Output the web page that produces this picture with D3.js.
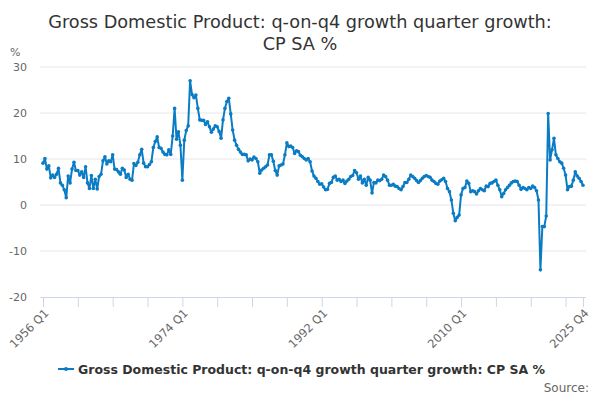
<!DOCTYPE html>
<html>
<head>
<meta charset="utf-8">
<script src="https://cdn.jsdelivr.net/npm/d3@7"></script>
<style>
  body { margin: 0; background: #fff; }
  text { font-family: "DejaVu Sans", Verdana, sans-serif; }
</style>
</head>
<body>
<svg id="chart"></svg>
<script>
const width = 600, height = 400;

// quarterly values, 1956 Q1 .. 2025 Q4 (one row per year)
const values = [
  9.1, 10.1, 7.8, 8.5,    // 1956
  5.9, 6.5, 6.0, 6.7,     // 1957
  8.0, 4.8, 4.3, 3.3,     // 1958
  1.6, 6.3, 4.8, 7.8,     // 1959
  9.3, 7.5, 7.5, 6.5,     // 1960
  7.2, 6.0, 8.3, 4.8,     // 1961
  3.6, 6.4, 3.6, 5.6,     // 1962
  3.5, 6.2, 6.7, 9.6,     // 1963
  10.5, 8.9, 9.6, 9.4,    // 1964
  10.9, 7.8, 7.7, 7.2,    // 1965
  6.7, 8.0, 7.6, 6.0,     // 1966
  6.7, 5.6, 5.4, 9.0,     // 1967
  8.6, 9.3, 10.9, 12.1,   // 1968
  9.1, 8.3, 8.3, 8.8,     // 1969
  9.4, 12.5, 13.8, 14.8,  // 1970
  12.5, 12.3, 11.5, 11.0, // 1971
  10.9, 12.0, 11.0, 15.0, // 1972
  21.0, 14.3, 15.9, 13.0, // 1973
  5.4, 14.1, 16.2, 17.2,  // 1974
  27.0, 24.0, 23.3, 23.9, // 1975
  21.0, 18.5, 18.4, 18.4, // 1976
  17.5, 18.1, 17.0, 15.8, // 1977
  16.5, 17.2, 17.0, 16.0, // 1978
  14.5, 18.5, 21.0, 22.5, // 1979
  23.2, 19.8, 16.3, 14.1, // 1980
  13.0, 12.1, 11.5, 11.0, // 1981
  11.0, 10.9, 9.6, 10.0,  // 1982
  9.8, 10.4, 10.1, 9.4,   // 1983
  6.9, 7.6, 8.0, 8.3,     // 1984
  8.7, 10.9, 10.9, 9.5,   // 1985
  7.5, 6.5, 8.5, 8.7,     // 1986
  8.9, 10.9, 13.5, 12.7,  // 1987
  12.8, 12.5, 11.2, 11.8, // 1988
  11.6, 10.8, 10.5, 10.1, // 1989
  9.8, 10.1, 9.4, 7.4,    // 1990
  6.3, 5.8, 5.1, 4.5,     // 1991
  4.6, 3.9, 3.3, 3.4,     // 1992
  4.7, 4.9, 6.0, 6.3,     // 1993
  5.4, 5.6, 5.1, 5.4,     // 1994
  4.7, 5.2, 5.6, 6.2,     // 1995
  6.4, 7.5, 7.0, 5.6,     // 1996
  6.3, 4.8, 5.6, 4.3,     // 1997
  6.0, 5.4, 2.6, 4.9,     // 1998
  4.8, 5.4, 5.3, 5.6,     // 1999
  6.5, 6.2, 5.4, 4.3,     // 2000
  4.3, 4.5, 4.1, 4.0,     // 2001
  3.6, 3.3, 4.0, 4.9,     // 2002
  4.9, 5.6, 6.5, 6.2,     // 2003
  5.8, 5.3, 4.9, 5.3,     // 2004
  5.8, 6.2, 6.4, 6.2,     // 2005
  6.0, 5.4, 5.1, 4.7,     // 2006
  4.5, 5.2, 5.5, 5.8,     // 2007
  5.1, 3.6, 2.9, 1.1,     // 2008
  -1.8, -3.4, -2.7, -2.2, // 2009
  2.2, 3.6, 3.8, 5.2,     // 2010
  4.7, 2.9, 3.1, 2.9,     // 2011
  2.4, 3.1, 3.6, 3.3,     // 2012
  3.1, 4.1, 4.0, 4.7,     // 2013
  4.8, 5.1, 5.4, 4.3,     // 2014
  3.3, 1.8, 2.5, 3.3,     // 2015
  3.8, 4.3, 4.8, 5.1,     // 2016
  5.2, 5.1, 4.3, 3.4,     // 2017
  3.8, 3.6, 3.3, 3.8,     // 2018
  3.6, 4.1, 3.8, 3.1,     // 2019
  1.1, -14.1, -4.7, -4.7, // 2020
  -2.4, 19.9, 9.8, 12.0,  // 2021
  14.5, 10.9, 10.1, 9.4,  // 2022
  9.1, 8.0, 6.5, 3.3,     // 2023
  4.0, 4.1, 5.4, 7.2,     // 2024
  6.3, 5.8, 5.1, 4.3      // 2025
];

const startYear = 1956;
const quarters = values.map((v, i) => (startYear + Math.floor(i / 4)) + " Q" + (i % 4 + 1));
const tickLabels = ["1956 Q1", "1974 Q1", "1992 Q1", "2010 Q1", "2025 Q4"];
const yTicks = [-20, -10, 0, 10, 20, 30];
const seriesName = "Gross Domestic Product: q-on-q4 growth quarter growth: CP SA %";
const titleLines = ["Gross Domestic Product: q-on-q4 growth quarter growth:", "CP SA %"];

const data = quarters.map((q, i) => ({ q: q, v: values[i] }));

const svg = d3.select("#chart").attr("width", width).attr("height", height);
svg.append("rect").attr("width", width).attr("height", height).attr("fill", "#fff");

const x = d3.scalePoint().domain(quarters).range([43, 583]);
const y = d3.scaleLinear().domain([-20, 30]).range([297, 67]);

// title
svg.append("text")
  .attr("x", 300).attr("y", 28)
  .attr("text-anchor", "middle")
  .style("font-size", "17.7px").style("fill", "#333")
  .selectAll("tspan").data(titleLines).join("tspan")
  .attr("x", 300).attr("dy", (d, i) => i ? 22 : 0)
  .text(d => d);

// gridlines + y labels
svg.append("g").selectAll("line").data(yTicks.filter(t => t !== -20)).join("line")
  .attr("x1", 40).attr("x2", 586)
  .attr("y1", d => y(d)).attr("y2", d => y(d))
  .attr("stroke", "#e6e6e6").attr("stroke-width", 1);

svg.append("g").selectAll("text").data(yTicks).join("text")
  .attr("x", 27).attr("y", d => y(d) + 4)
  .attr("text-anchor", "end")
  .style("font-size", "11px").style("fill", "#666")
  .text(d => d);

svg.append("text").attr("x", 10).attr("y", 56)
  .style("font-size", "11px").style("fill", "#666").text("%");

// x axis: tick every 18 quarters plus the last one
const tickQuarters = quarters.filter((q, i) => i % 18 === 0 || i === quarters.length - 1);
const xAxis = d3.axisBottom(x)
  .tickValues(tickQuarters)
  .tickSize(10)
  .tickFormat(d => tickLabels.includes(d) ? d : "");
const gx = svg.append("g").attr("transform", "translate(0,297)").call(xAxis);
gx.select(".domain").attr("stroke", "#ccd6eb").attr("d", "M40.5,0.5H586");
gx.selectAll(".tick line").attr("stroke", "#ccd6eb");
gx.selectAll(".tick text")
  .style("font-size", "11.5px").style("fill", "#666")
  .attr("text-anchor", "end")
  .attr("x", 0).attr("y", 0).attr("dy", "0.35em")
  .attr("transform", "translate(3,14) rotate(-45)");

// series
const color = "#0b7cc4";
const line = d3.line().x(d => x(d.q)).y(d => y(d.v));
svg.append("path").datum(data)
  .attr("d", line)
  .attr("fill", "none").attr("stroke", color)
  .attr("stroke-width", 2).attr("stroke-linejoin", "round");
svg.append("g").selectAll("circle").data(data).join("circle")
  .attr("cx", d => x(d.q)).attr("cy", d => y(d.v))
  .attr("r", 1.8).attr("fill", color);

// legend
const lg = svg.append("g");
lg.append("line").attr("x1", 58).attr("x2", 74).attr("y1", 369).attr("y2", 369)
  .attr("stroke", color).attr("stroke-width", 2);
lg.append("circle").attr("cx", 66).attr("cy", 369).attr("r", 2).attr("fill", color);
lg.append("text").attr("x", 78).attr("y", 373.5)
  .style("font-size", "12.5px").style("font-weight", "bold").style("fill", "#333")
  .text(seriesName);

svg.append("text").attr("x", 589).attr("y", 392).attr("text-anchor", "end")
  .style("font-size", "12px").style("fill", "#666").text("Source:");
</script>
</body>
</html>
